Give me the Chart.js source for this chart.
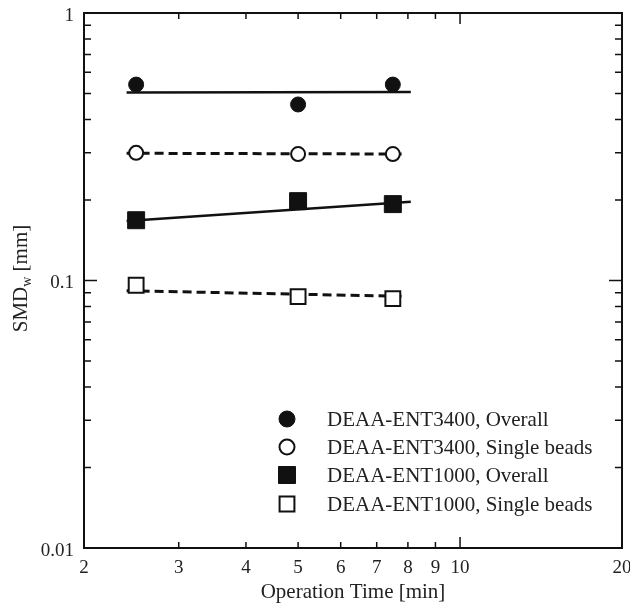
<!DOCTYPE html>
<html>
<head>
<meta charset="utf-8">
<script src="https://cdn.jsdelivr.net/npm/chart.js@4/dist/chart.umd.min.js"></script>
<style>
  html, body { margin: 0; padding: 0; background: #fff; }
  #wrap { width: 630px; height: 609px; }
</style>
</head>
<body>
<div id="wrap"><canvas id="myChart" width="630" height="609"></canvas></div>
<script>
// measured points (operation time in min, SMDw in mm)
const timeMin = [2.5, 5, 7.5];
const ent3400Overall = [0.54, 0.455, 0.54];
const ent3400Single = [0.30, 0.297, 0.297];
const ent1000Overall = [0.168, 0.198, 0.193];
const ent1000Single = [0.096, 0.087, 0.0855];

// fitted lines at their ends
const fitTimeSolid = [2.4, 8.1];
const fitTimeDashed = [2.4, 7.9];
const fit3400Overall = [0.504, 0.507];
const fit3400Single = [0.299, 0.297];
const fit1000Overall = [0.167, 0.197];
const fit1000Single = [0.0916, 0.0872];

const seriesLabels = [
  'DEAA-ENT3400, Overall',
  'DEAA-ENT3400, Single beads',
  'DEAA-ENT1000, Overall',
  'DEAA-ENT1000, Single beads'
];

// axis ticks
const xLabelValues = [2, 3, 4, 5, 6, 7, 8, 9, 10, 20];
const xTickMarks = [3, 4, 5, 6, 7, 8, 9, 10];
const yLabelValues = [0.01, 0.1, 1];
const yTickMarks = [0.02, 0.03, 0.04, 0.05, 0.06, 0.07, 0.08, 0.09, 0.1,
  0.2, 0.3, 0.4, 0.5, 0.6, 0.7, 0.8, 0.9];

const ink = '#111';
const serif = '"Liberation Serif", "Times New Roman", serif';
Chart.defaults.font.family = serif;
Chart.defaults.font.size = 21;
Chart.defaults.color = '#222';

const pts = (xs, ys) => xs.map((x, i) => ({x: x, y: ys[i]}));

const markerStyles = [
  {pointStyle: 'circle', pointRadius: 7.5, backgroundColor: ink, borderColor: ink, borderWidth: 1},
  {pointStyle: 'circle', pointRadius: 7, backgroundColor: '#fff', borderColor: ink, borderWidth: 2},
  {pointStyle: 'rect', pointRadius: 12, backgroundColor: ink, borderColor: ink, borderWidth: 1},
  {pointStyle: 'rect', pointRadius: 10.5, backgroundColor: '#fff', borderColor: ink, borderWidth: 2}
];
const markerData = [ent3400Overall, ent3400Single, ent1000Overall, ent1000Single];

const datasets = markerData.map((ys, i) => Object.assign({
  label: seriesLabels[i],
  data: pts(timeMin, ys),
  showLine: false
}, markerStyles[i]));

const fitLine = (xs, ys, dashed) => ({
  data: pts(xs, ys),
  showLine: true,
  borderColor: ink,
  borderWidth: dashed ? 3 : 2.5,
  borderDash: dashed ? [9, 5] : [],
  pointRadius: 0
});
datasets.push(fitLine(fitTimeSolid, fit3400Overall, false));
datasets.push(fitLine(fitTimeDashed, fit3400Single, true));
datasets.push(fitLine(fitTimeSolid, fit1000Overall, false));
datasets.push(fitLine(fitTimeDashed, fit1000Single, true));

// frame, inward ticks, legend and y title
const decorations = {
  id: 'decorations',
  afterDraw(chart) {
    const ctx = chart.ctx;
    const a = chart.chartArea;
    const xs = chart.scales.x, ys = chart.scales.y;
    ctx.save();
    ctx.strokeStyle = ink;
    ctx.lineWidth = 2;
    ctx.strokeRect(a.left, a.top, a.right - a.left, a.bottom - a.top);

    ctx.lineWidth = 1.5;
    ctx.beginPath();
    xTickMarks.forEach(v => {
      const px = xs.getPixelForValue(v);
      const len = v === 10 ? 11 : 6;
      ctx.moveTo(px, a.bottom); ctx.lineTo(px, a.bottom - len);
      ctx.moveTo(px, a.top); ctx.lineTo(px, a.top + len);
    });
    yTickMarks.forEach(v => {
      const py = ys.getPixelForValue(v);
      const len = v === 0.1 ? 13 : 7;
      ctx.moveTo(a.left, py); ctx.lineTo(a.left + len, py);
      ctx.moveTo(a.right, py); ctx.lineTo(a.right - len, py);
    });
    ctx.stroke();

    // legend
    const rows = [419, 447, 475, 504];
    const symX = 287, textX = 327;
    ctx.font = '21px ' + serif;
    ctx.textBaseline = 'middle';
    ctx.textAlign = 'left';
    seriesLabels.forEach((lab, i) => {
      const st = markerStyles[i];
      const y = rows[i];
      ctx.fillStyle = st.backgroundColor;
      ctx.strokeStyle = st.borderColor;
      ctx.lineWidth = st.borderWidth;
      ctx.beginPath();
      if (st.pointStyle === 'circle') {
        ctx.arc(symX, y, st.pointRadius + 0.5, 0, Math.PI * 2);
      } else {
        const h = st.pointRadius * Math.SQRT1_2;
        ctx.rect(symX - h, y - h, 2 * h, 2 * h);
      }
      ctx.fill();
      ctx.stroke();
      ctx.fillStyle = '#222';
      ctx.fillText(lab, textX, y + 1);
    });

    // y axis title with subscript w
    const big = '21px ' + serif, small = '14px ' + serif;
    ctx.font = big;
    const w1 = ctx.measureText('SMD').width;
    const w3 = ctx.measureText(' [mm]').width;
    ctx.font = small;
    const w2 = ctx.measureText('w').width;
    const total = w1 + w2 + w3;
    ctx.translate(20, (a.top + a.bottom) / 2 - 2);
    ctx.rotate(-Math.PI / 2);
    ctx.fillStyle = '#222';
    ctx.textBaseline = 'alphabetic';
    let cx = -total / 2;
    ctx.font = big;
    ctx.fillText('SMD', cx, 7);
    cx += w1;
    ctx.font = small;
    ctx.fillText('w', cx, 11);
    cx += w2;
    ctx.font = big;
    ctx.fillText(' [mm]', cx, 7);
    ctx.restore();
  }
};

const config = {
  type: 'scatter',
  data: {datasets},
  options: {
    responsive: false,
    animation: false,
    layout: {padding: {top: 13, right: 8, left: 0, bottom: 0}, autoPadding: false},
    plugins: {legend: {display: false}, tooltip: {enabled: false}},
    scales: {
      x: {
        type: 'logarithmic',
        min: 2,
        max: 20,
        grid: {display: false, drawTicks: false},
        border: {display: false},
        afterBuildTicks: s => { s.ticks = xLabelValues.map(v => ({value: v})); },
        afterFit: s => {
          s.height = 61;
          s.paddingLeft = 0;
          s.paddingRight = 0;
        },
        ticks: {
          padding: 9,
          font: {size: 19},
          autoSkip: false,
          maxRotation: 0,
          callback: v => String(v)
        },
        title: {
          display: true,
          text: 'Operation Time [min]',
          padding: {top: 0, bottom: 4}
        }
      },
      y: {
        type: 'logarithmic',
        min: 0.01,
        max: 1,
        grid: {display: false, drawTicks: false},
        border: {display: false},
        afterBuildTicks: s => { s.ticks = yLabelValues.map(v => ({value: v})); },
        afterFit: s => {
          s.width = 84;
          s.paddingTop = 0;
          s.paddingBottom = 0;
        },
        ticks: {
          padding: 10,
          labelOffset: 3,
          font: {size: 19},
          autoSkip: false,
          callback: v => String(v)
        }
      }
    }
  },
  plugins: [decorations]
};

const myChart = new Chart(document.getElementById('myChart').getContext('2d'), config);
</script>
</body>
</html>
